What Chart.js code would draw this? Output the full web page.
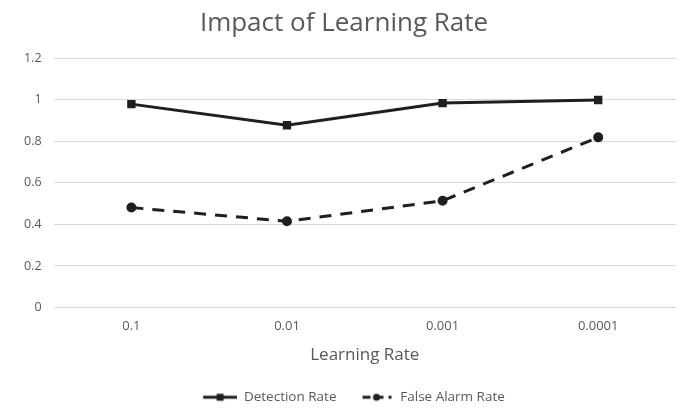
<!DOCTYPE html>
<html>
<head>
<meta charset="utf-8">
<script src="https://cdn.jsdelivr.net/npm/chart.js@4"></script>
<style>
	html, body { margin: 0; padding: 0; background: #fff; }
	#wrap { width: 690px; height: 411px; }
</style>
</head>
<body>
<div id="wrap"><canvas id="lrChart"></canvas></div>
<script>
(function(){
	'use strict';

	var learningRates = ['0.1', '0.01', '0.001', '0.0001'];
	var detectionRate = [0.979, 0.877, 0.984, 0.999];
	var falseAlarmRate = [0.481, 0.415, 0.514, 0.819];

	var grey = '#595959';
	var ink = '#1f1f1f';
	var fontName = "'Open Sans', 'Noto Sans', sans-serif";

	// little line+marker pictures for the legend, blank strip on the left
	// gives the gap between the two legend entries
	var gap = 20;
	function legendIcon(shape, dashed){
		var c = document.createElement('canvas');
		c.width = 34 + gap; c.height = 10;
		var g = c.getContext('2d');
		g.strokeStyle = ink;
		g.fillStyle = ink;
		g.lineWidth = 3;
		if(dashed){ g.setLineDash([8, 5]); }
		g.beginPath();
		g.moveTo(gap + (dashed ? 3 : 0), 5);
		g.lineTo(gap + (dashed ? 32 : 34), 5);
		g.stroke();
		if(shape === 'rect'){
			g.fillRect(gap + 13.5, 1.5, 7, 7);
		} else {
			g.beginPath();
			g.arc(gap + 17, 5, 3.5, 0, Math.PI * 2);
			g.fill();
		}
		return c;
	}
	var iconDet = legendIcon('rect', false);
	var iconFar = legendIcon('circle', true);

	var ctx = document.getElementById('lrChart').getContext('2d');
	new Chart(ctx, {
		type: 'line',
		data: {
			labels: learningRates,
			datasets: [{
				label: 'Detection Rate',
				data: detectionRate,
				borderColor: ink,
				backgroundColor: ink,
				borderWidth: 3,
				pointStyle: 'rect',
				pointRadius: 3.8,
				pointHoverRadius: 3.8,
				tension: 0
			}, {
				label: 'False Alarm Rate',
				data: falseAlarmRate,
				borderColor: ink,
				backgroundColor: ink,
				borderWidth: 3,
				borderDash: [12, 9],
				pointStyle: 'circle',
				pointRadius: 3.5,
				pointHoverRadius: 3.5,
				tension: 0
			}]
		},
		options: {
			responsive: true,
			maintainAspectRatio: false,
			animation: false,
			layout: { padding: { left: 12, right: 14, top: 2, bottom: -3 } },
			plugins: {
				title: {
					display: true,
					text: 'Impact of Learning Rate',
					color: grey,
					font: { family: fontName, size: 26, weight: 'normal' },
					padding: { top: 6, bottom: 19 }
				},
				legend: {
					position: 'bottom',
					labels: {
						usePointStyle: true,
						pointStyleWidth: 34 + gap,
						color: grey,
						font: { family: fontName, size: 13.5 },
						padding: 3,
						boxPadding: 2,
						generateLabels: function(chart){
							return chart.data.datasets.map(function(ds, i){
								return {
									text: ds.label,
									fontColor: grey,
									pointStyle: i === 0 ? iconDet : iconFar,
									datasetIndex: i,
									lineWidth: 0,
									strokeStyle: 'transparent',
									fillStyle: 'transparent'
								};
							});
						}
					}
				},
				tooltip: { enabled: false }
			},
			scales: {
				x: {
					offset: true,
					grid: { display: false, drawTicks: false },
					border: { display: false },
					ticks: { color: grey, font: { family: fontName, size: 13 }, padding: 11 },
					title: {
						display: true,
						text: 'Learning Rate',
						color: grey,
						font: { family: fontName, size: 17 },
						padding: { top: 0, bottom: 22 }
					}
				},
				y: {
					min: 0,
					max: 1.2,
					grid: { color: '#d9d9d9', lineWidth: 1, drawTicks: false },
					border: { display: false },
					ticks: {
						stepSize: 0.2,
						color: grey,
						font: { family: fontName, size: 12.5 },
						padding: 12,
						callback: function(v){ return String(Math.round(v * 10) / 10); }
					}
				}
			}
		}
	});
})();
</script>
</body>
</html>
